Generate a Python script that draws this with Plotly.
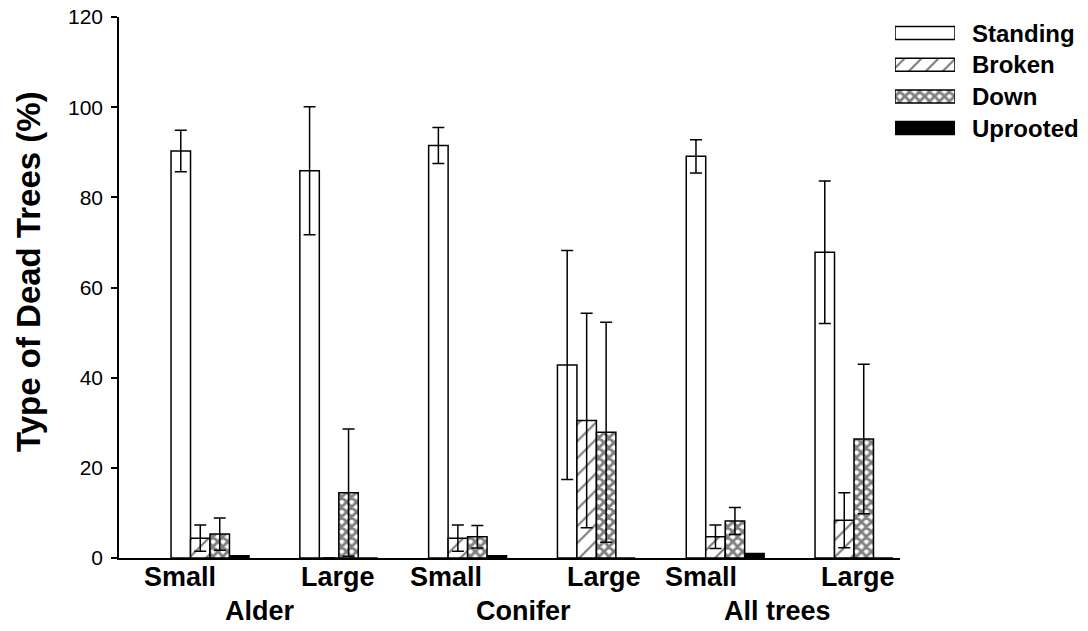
import plotly.graph_objects as go

# ---------------- data ----------------
groups = ["Alder", "Conifer", "All trees"]
sizes = ["Small", "Large"]
series = ["Standing", "Broken", "Down", "Uprooted"]

standing = [90.3, 85.9, 91.5, 42.8, 89.1, 67.8]
standing_err = [4.6, 14.2, 4.0, 25.4, 3.7, 15.8]
broken = [4.4, 0.0, 4.4, 30.5, 4.7, 8.4]
broken_err = [2.9, 0.0, 2.9, 23.8, 2.6, 6.1]
down = [5.3, 14.5, 4.7, 27.9, 8.2, 26.4]
down_err = [3.6, 14.1, 2.5, 24.4, 3.0, 16.6]
uprooted = [0.5, 0.0, 0.5, 0.0, 1.0, 0.0]

y_ticks = [0, 20, 40, 60, 80, 100, 120]

# ---------------- layout helpers ----------------
W, H = 1088, 631
ML, MT, MB = 119, 17, 73
PW = W - ML            # paper width (r margin 0)
PH = H - MT - MB       # paper height
PLOT_RIGHT = 900

def px2paper_x(px):
    return (px - ML) / PW

def py2paper_y(py):
    return 1 - (py - MT) / PH

FONT = "Liberation Sans, Arial, Helvetica, sans-serif"
BLACK = "black"

values = [standing, broken, down, uprooted]
errors = [standing_err, broken_err, down_err, None]
styles = [
    dict(color="white", pattern=None),
    dict(color="white", pattern=dict(shape="/", fgcolor=BLACK, bgcolor="white", size=12, solidity=0.18)),
    dict(color="white", pattern=dict(shape="x", fgcolor=BLACK, bgcolor="white", size=7, solidity=0.65)),
    dict(color=BLACK, pattern=None),
]

xpos = list(range(len(standing)))

fig = go.Figure()
for name, vals, err, st in zip(series, values, errors, styles):
    marker = dict(color=st["color"], line=dict(color=BLACK, width=1.5))
    if st["pattern"] is not None:
        marker["pattern"] = st["pattern"]
    kw = {}
    if err is not None:
        kw["error_y"] = dict(type="data", array=err, visible=True, color=BLACK, thickness=1.5, width=6)
    fig.add_trace(go.Bar(x=xpos, y=vals, name=name, marker=marker, showlegend=False,
                         xaxis="x", yaxis="y", **kw))

# custom legend drawn as horizontal bars on an auxiliary axis
for i, (name, st) in enumerate(zip(series, styles)):
    marker = dict(color=st["color"], line=dict(color=BLACK, width=1.5))
    if st["pattern"] is not None:
        marker["pattern"] = st["pattern"]
    fig.add_trace(go.Bar(x=[1], y=[i], orientation="h", marker=marker, width=0.41,
                         showlegend=False, xaxis="x2", yaxis="y2", hoverinfo="skip"))

# x range so that group centres sit at the right pixels
c0, step = 210, 128.8
x_lo = (ML - c0) / step
x_hi = (PLOT_RIGHT - c0) / step

leg_top, leg_step = 33, 31.7
leg_dom_top = py2paper_y(leg_top - leg_step / 2)
leg_dom_bot = py2paper_y(leg_top + leg_step * (len(series) - 0.5))

fig.update_layout(
    width=W, height=H,
    margin=dict(l=ML, r=0, t=MT, b=MB),
    paper_bgcolor="white", plot_bgcolor="white",
    barmode="group", bargap=0.395, bargroupgap=0,
    font=dict(family=FONT, color=BLACK),
    xaxis=dict(domain=[0, px2paper_x(PLOT_RIGHT)], range=[x_lo, x_hi],
               showline=True, linecolor=BLACK, linewidth=1.5,
               showticklabels=False, ticks="", showgrid=False, zeroline=False),
    yaxis=dict(domain=[0, 1], range=[0, 120], tickvals=y_ticks,
               showline=True, linecolor=BLACK, linewidth=1.5,
               ticks="outside", ticklen=6, tickwidth=1.5, tickcolor=BLACK,
               tickfont=dict(size=21, family=FONT), showgrid=False, zeroline=False,
               ticklabelstandoff=4),
    xaxis2=dict(domain=[px2paper_x(895), px2paper_x(955)], range=[0, 1], anchor="y2",
                visible=False),
    yaxis2=dict(domain=[leg_dom_bot, leg_dom_top], range=[len(series) - 0.5, -0.5],
                anchor="x2", visible=False),
    showlegend=False,
)

annotations = []
# legend labels
for i, name in enumerate(series):
    annotations.append(dict(text=f"<b>{name}</b>", x=px2paper_x(970), xref="paper",
                            y=i, yref="y2", xanchor="left", yanchor="middle",
                            showarrow=False, font=dict(size=24, family=FONT)))

# size (tick) labels and group labels
size_label_px = [180, 338, 446, 604, 701, 858]
group_label_px = [260, 523, 777]
for k, px in enumerate(size_label_px):
    annotations.append(dict(text=f"<b>{sizes[k % 2]}</b>", x=(px - c0) / step, xref="x",
                            y=0, yref="paper", xanchor="center", yanchor="middle",
                            yshift=-19, showarrow=False, font=dict(size=27, family=FONT)))
for g, px in zip(groups, group_label_px):
    annotations.append(dict(text=f"<b>{g}</b>", x=(px - c0) / step, xref="x",
                            y=0, yref="paper", xanchor="center", yanchor="middle",
                            yshift=-53, showarrow=False, font=dict(size=27, family=FONT)))

# y axis title
annotations.append(dict(text="<b>Type of Dead Trees (%)</b>", x=px2paper_x(28), xref="paper",
                        y=py2paper_y(272), yref="paper", xanchor="center", yanchor="middle",
                        textangle=-90, showarrow=False, font=dict(size=33, family=FONT)))

fig.update_layout(annotations=annotations)

fig.write_html("out.html")
